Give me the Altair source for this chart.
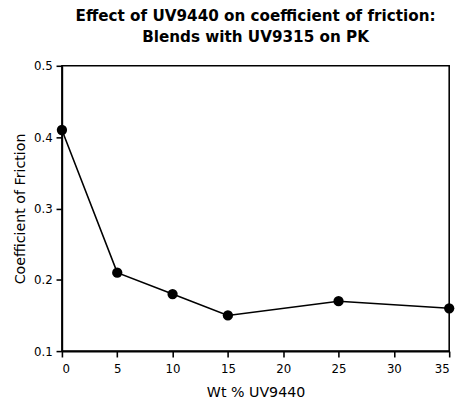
import altair as alt
import pandas as pd

wt = [0, 5, 10, 15, 25, 35]
cof = [0.41, 0.21, 0.18, 0.15, 0.17, 0.16]
title_lines = ["Effect of UV9440 on coefficient of friction:", "Blends with UV9315 on PK"]
x_ticks = [0, 5, 10, 15, 20, 25, 30, 35]
y_ticks = [0.1, 0.2, 0.3, 0.4, 0.5]

df = pd.DataFrame({"wt": wt, "cof": cof})

base = alt.Chart(df).encode(
    x=alt.X("wt:Q", scale=alt.Scale(domain=[0, 35], nice=False),
            axis=alt.Axis(title="Wt % UV9440", values=x_ticks,
                          grid=False, tickSize=6, labelPadding=7, titlePadding=11)),
    y=alt.Y("cof:Q", scale=alt.Scale(domain=[0.1, 0.5], nice=False, zero=False),
            axis=alt.Axis(title="Coefficient of Friction", values=y_ticks,
                          format=".1f", grid=False, tickSize=6, labelPadding=4, titlePadding=6)),
)

line = base.mark_line(color="black", strokeWidth=1.6)
pts = base.mark_point(filled=True, color="black", size=110, opacity=1)

chart = (line + pts).properties(
    width=395, height=291,
    title=alt.TitleParams(title_lines, fontSize=15.5, fontWeight="bold", font="DejaVu Sans",
                          anchor="middle", color="black", offset=15, lineHeight=21),
    autosize=alt.AutoSizeParams(type="none"),
    padding={"left": 55, "top": 55, "right": 10, "bottom": 50},
).configure_axis(
    domainColor="black", tickColor="black", labelColor="black", titleColor="black",
    labelFont="DejaVu Sans", titleFont="DejaVu Sans", labelFontSize=12,
    titleFontSize=14.5, titleFontWeight="normal", domainWidth=1.6, tickWidth=1.6,
).configure_view(stroke="black", strokeWidth=1.6)

chart.save("out.html", embed_options={"renderer": "svg", "actions": False})
